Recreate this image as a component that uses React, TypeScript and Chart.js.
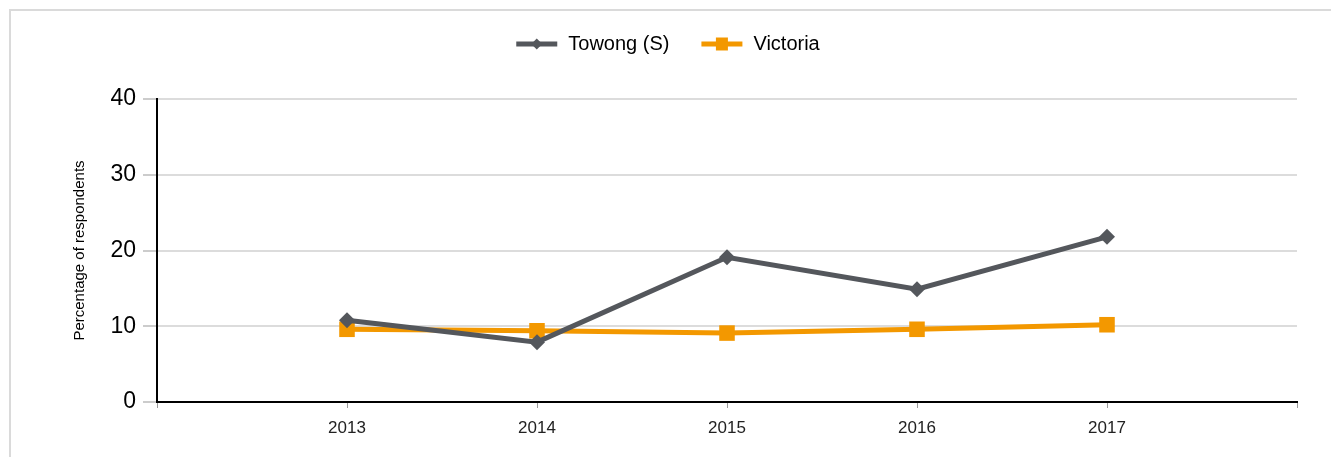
import React, { useEffect, useRef } from "react";
import { Chart, registerables } from "chart.js";

Chart.register(...registerables);

const years = [2013, 2014, 2015, 2016, 2017];
const towong = [10.8, 7.9, 19.1, 14.9, 21.8];
const victoria = [9.6, 9.4, 9.1, 9.6, 10.2];
const yTicks = [0, 10, 20, 30, 40];
const seriesNames = ["Towong (S)", "Victoria"];

const TOWONG_COLOR = "#54575c";
const VIC_COLOR = "#f39800";
const FONT = "'Liberation Sans', Arial, sans-serif";

const legendPlugin = {
  id: "lineLegend",
  afterDraw(chart: any) {
    const ctx = chart.ctx;
    ctx.save();
    ctx.font = `20px ${FONT}`;
    ctx.textBaseline = "middle";
    const symW = 41;
    const gap = 11;
    const itemGap = 32;
    const widths = chart.data.datasets.map((d: any) => ctx.measureText(d.label).width);
    const total = widths.reduce((a: number, w: number) => a + symW + gap + w, 0) + itemGap * (widths.length - 1);
    let x = 668 - total / 2;
    const y = 44;
    chart.data.datasets.forEach((d: any, i: number) => {
      ctx.strokeStyle = d.borderColor;
      ctx.fillStyle = d.borderColor;
      ctx.lineWidth = 5;
      ctx.beginPath();
      ctx.moveTo(x, y);
      ctx.lineTo(x + symW, y);
      ctx.stroke();
      const cx = x + symW / 2;
      ctx.beginPath();
      if (d.pointStyle === "rectRot") {
        const r = 5.5;
        ctx.moveTo(cx, y - r);
        ctx.lineTo(cx + r, y);
        ctx.lineTo(cx, y + r);
        ctx.lineTo(cx - r, y);
        ctx.closePath();
      } else {
        ctx.rect(cx - 6, y - 6.5, 12, 13);
      }
      ctx.fill();
      ctx.fillStyle = "#000";
      ctx.textAlign = "left";
      ctx.fillText(d.label, x + symW + gap, y);
      x += symW + gap + widths[i] + itemGap;
    });
    ctx.restore();
  },
};

export default function App() {
  const ref = useRef<HTMLCanvasElement | null>(null);

  useEffect(() => {
    if (!ref.current) return;
    const chart = new Chart(ref.current, {
      type: "line",
      data: {
        datasets: [
          {
            label: seriesNames[0],
            data: years.map((y, i) => ({ x: y, y: towong[i] })),
            borderColor: TOWONG_COLOR,
            backgroundColor: TOWONG_COLOR,
            borderWidth: 5,
            pointStyle: "rectRot",
            pointRadius: 8,
            pointBorderWidth: 0,
            pointBackgroundColor: TOWONG_COLOR,
            tension: 0,
          },
          {
            label: seriesNames[1],
            data: years.map((y, i) => ({ x: y, y: victoria[i] })),
            borderColor: VIC_COLOR,
            backgroundColor: VIC_COLOR,
            borderWidth: 5,
            pointStyle: "rect",
            pointRadius: 11,
            pointBorderWidth: 0,
            pointBackgroundColor: VIC_COLOR,
            tension: 0,
          },
        ],
      },
      options: {
        animation: false,
        responsive: false,
        layout: { padding: { top: 99, right: 34, left: 0, bottom: 0 } },
        plugins: {
          legend: { display: false },
          tooltip: { enabled: false },
        },
        scales: {
          x: {
            type: "linear",
            min: years[0] - 1,
            max: years[years.length - 1] + 1,
            afterFit: (s: any) => {
              s.height = 55;
            },
            afterBuildTicks: (s: any) => {
              const t = [years[0] - 1, ...years, years[years.length - 1] + 1];
              s.ticks = t.map((v) => ({ value: v }));
            },
            ticks: {
              stepSize: 1,
              autoSkip: false,
              maxRotation: 0,
              padding: 10,
              color: "#222",
              font: { family: FONT, size: 17 },
              callback: (v: any) => (years.includes(Number(v)) ? String(v) : ""),
            },
            grid: {
              drawOnChartArea: false,
              drawTicks: true,
              tickLength: 6,
              tickColor: "#999",
              tickWidth: 1,
            },
            border: { display: true, color: "#000", width: 2 },
          },
          y: {
            min: yTicks[0],
            max: yTicks[yTicks.length - 1],
            afterFit: (s: any) => {
              s.width = 157;
            },
            afterBuildTicks: (s: any) => {
              s.ticks = yTicks.map((v) => ({ value: v }));
            },
            ticks: {
              padding: 7,
              color: "#000",
              font: { family: FONT, size: 23 },
            },
            grid: {
              color: (c: any) => (c.tick && c.tick.value === 0 ? "rgba(0,0,0,0)" : "#dcdcdc"),
              lineWidth: 2,
              drawTicks: true,
              tickLength: 14,
              tickColor: "#999",
              tickWidth: 1,
            },
            border: { display: true, color: "#000", width: 2 },
            title: {
              display: true,
              text: "Percentage of respondents",
              color: "#000",
              font: { family: FONT, size: 15 },
              padding: { top: 71, bottom: 0 },
            },
          },
        },
      },
      plugins: [legendPlugin],
    } as any);
    return () => chart.destroy();
  }, []);

  return (
    <div style={{ position: "fixed", left: 0, top: 0, width: 1331, height: 457, overflow: "hidden", background: "#fff" }}>
      <div
        style={{
          position: "absolute",
          left: 9,
          top: 9,
          width: 1400,
          height: 600,
          borderTop: "2px solid #dadada",
          borderLeft: "2px solid #dadada",
        }}
      />
      <canvas ref={ref} width={1331} height={457} style={{ position: "absolute", left: 0, top: 0, display: "block" }} />
    </div>
  );
}
